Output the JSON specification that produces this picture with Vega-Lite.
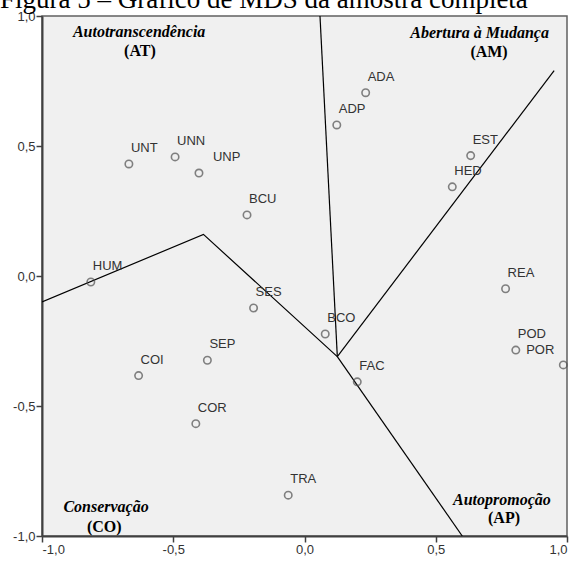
{
  "$schema": "https://vega.github.io/schema/vega-lite/v6.json",
  "autosize": {"type": "none"},
  "width": 525,
  "height": 520,
  "padding": {"left": 42, "top": 16, "right": 10, "bottom": 27},
  "background": "white",
  "title": {
    "text": "Figura 5 – Gráfico de MDS da amostra completa",
    "anchor": "start",
    "frame": "group",
    "dx": -42,
    "dy": 25,
    "offset": 0,
    "baseline": "alphabetic",
    "font": "Liberation Serif",
    "fontSize": 27,
    "fontWeight": "normal",
    "color": "black"
  },
  "datasets": {
    "pts": [
      {"label": "UNT", "x": -0.669, "y": 0.431},
      {"label": "UNN", "x": -0.493, "y": 0.458},
      {"label": "UNP", "x": -0.402, "y": 0.396},
      {"label": "BCU", "x": -0.219, "y": 0.235},
      {"label": "ADA", "x": 0.233, "y": 0.705},
      {"label": "ADP", "x": 0.123, "y": 0.581},
      {"label": "EST", "x": 0.633, "y": 0.463},
      {"label": "HED", "x": 0.563, "y": 0.343},
      {"label": "HUM", "x": -0.814, "y": -0.023},
      {"label": "SES", "x": -0.194, "y": -0.123},
      {"label": "BCO", "x": 0.079, "y": -0.223},
      {"label": "SEP", "x": -0.370, "y": -0.324},
      {"label": "COI", "x": -0.632, "y": -0.383},
      {"label": "REA", "x": 0.766, "y": -0.049},
      {"label": "POD", "x": 0.805, "y": -0.285},
      {"label": "POR", "x": 0.986, "y": -0.342},
      {"label": "FAC", "x": 0.201, "y": -0.407},
      {"label": "COR", "x": -0.414, "y": -0.568},
      {"label": "TRA", "x": -0.062, "y": -0.843}
    ],
    "lines": [
      {"seg": "A", "ord": 1, "x": 0.059, "y": 1.0},
      {"seg": "A", "ord": 2, "x": 0.125, "y": -0.31},
      {"seg": "B", "ord": 1, "x": 0.125, "y": -0.31},
      {"seg": "B", "ord": 2, "x": 0.951, "y": 0.79},
      {"seg": "C", "ord": 1, "x": 0.125, "y": -0.31},
      {"seg": "C", "ord": 2, "x": 0.601, "y": -1.0},
      {"seg": "D", "ord": 1, "x": -1.0, "y": -0.10},
      {"seg": "D", "ord": 2, "x": -0.385, "y": 0.16},
      {"seg": "D", "ord": 3, "x": 0.125, "y": -0.31}
    ],
    "regions": [
      {"text": "Autotranscendência", "kind": "name", "x": -0.630, "y": 0.940},
      {"text": "(AT)", "kind": "abbr", "x": -0.627, "y": 0.865},
      {"text": "Abertura à Mudança", "kind": "name", "x": 0.667, "y": 0.935},
      {"text": "(AM)", "kind": "abbr", "x": 0.703, "y": 0.862},
      {"text": "Conservação", "kind": "name", "x": -0.756, "y": -0.888},
      {"text": "(CO)", "kind": "abbr", "x": -0.763, "y": -0.965},
      {"text": "Autopromoção", "kind": "name", "x": 0.752, "y": -0.862},
      {"text": "(AP)", "kind": "abbr", "x": 0.760, "y": -0.931}
    ]
  },
  "layer": [
    {
      "data": {"name": "lines"},
      "mark": {"type": "line", "color": "black", "strokeWidth": 1.2, "clip": true},
      "encoding": {
        "x": {"field": "x", "type": "quantitative", "scale": {"domain": [-1, 1], "nice": false, "zero": false},
              "axis": {"values": [-1, -0.5, 0, 0.5, 1], "title": null, "grid": false,
                       "labelExpr": "(datum.value < 0 ? '-' : '') + replace(format(abs(datum.value), '.1f'), '.', ',')"}},
        "y": {"field": "y", "type": "quantitative", "scale": {"domain": [-1, 1], "nice": false, "zero": false},
              "axis": {"values": [-1, -0.5, 0, 0.5, 1], "title": null, "grid": false,
                       "labelExpr": "(datum.value < 0 ? '-' : '') + replace(format(abs(datum.value), '.1f'), '.', ',')"}},
        "detail": {"field": "seg"},
        "order": {"field": "ord", "type": "quantitative"}
      }
    },
    {
      "data": {"name": "pts"},
      "mark": {"type": "point", "shape": "circle", "filled": false, "color": "#505050", "strokeWidth": 1.6, "size": 55},
      "encoding": {
        "x": {"field": "x", "type": "quantitative"},
        "y": {"field": "y", "type": "quantitative"}
      }
    },
    {
      "data": {"name": "pts"},
      "transform": [{"filter": "datum.label != 'UNP' && datum.label != 'POR'"}],
      "mark": {"type": "text", "align": "left", "baseline": "middle", "dx": 2, "dy": -16, "font": "Liberation Sans", "fontSize": 13, "color": "#333333"},
      "encoding": {
        "x": {"field": "x", "type": "quantitative"},
        "y": {"field": "y", "type": "quantitative"},
        "text": {"field": "label"}
      }
    },
    {
      "data": {"name": "pts"},
      "transform": [{"filter": "datum.label == 'UNP'"}],
      "mark": {"type": "text", "align": "left", "baseline": "middle", "dx": 14, "dy": -16, "font": "Liberation Sans", "fontSize": 13, "color": "#333333"},
      "encoding": {
        "x": {"field": "x", "type": "quantitative"},
        "y": {"field": "y", "type": "quantitative"},
        "text": {"field": "label"}
      }
    },
    {
      "data": {"name": "pts"},
      "transform": [{"filter": "datum.label == 'POR'"}],
      "mark": {"type": "text", "align": "right", "baseline": "middle", "dx": -9, "dy": -15, "font": "Liberation Sans", "fontSize": 13, "color": "#333333"},
      "encoding": {
        "x": {"field": "x", "type": "quantitative"},
        "y": {"field": "y", "type": "quantitative"},
        "text": {"field": "label"}
      }
    },
    {
      "data": {"name": "regions"},
      "transform": [{"filter": "datum.kind == 'name'"}],
      "mark": {"type": "text", "align": "center", "baseline": "middle", "font": "Liberation Serif", "fontSize": 16, "fontWeight": "bold", "fontStyle": "italic", "color": "black"},
      "encoding": {
        "x": {"field": "x", "type": "quantitative"},
        "y": {"field": "y", "type": "quantitative"},
        "text": {"field": "text"}
      }
    },
    {
      "data": {"name": "regions"},
      "transform": [{"filter": "datum.kind == 'abbr'"}],
      "mark": {"type": "text", "align": "center", "baseline": "middle", "font": "Liberation Serif", "fontSize": 16, "fontWeight": "bold", "color": "black"},
      "encoding": {
        "x": {"field": "x", "type": "quantitative"},
        "y": {"field": "y", "type": "quantitative"},
        "text": {"field": "text"}
      }
    }
  ],
  "config": {
    "view": {"fill": "#F0F0F0", "stroke": "#606060", "strokeWidth": 1.5},
    "axis": {
      "domainColor": "#404040",
      "domainWidth": 2,
      "tickColor": "#404040",
      "tickWidth": 1.5,
      "tickSize": 6,
      "labelFont": "Liberation Sans",
      "labelFontSize": 13,
      "labelColor": "#333333",
      "labelPadding": 1
    }
  }
}
